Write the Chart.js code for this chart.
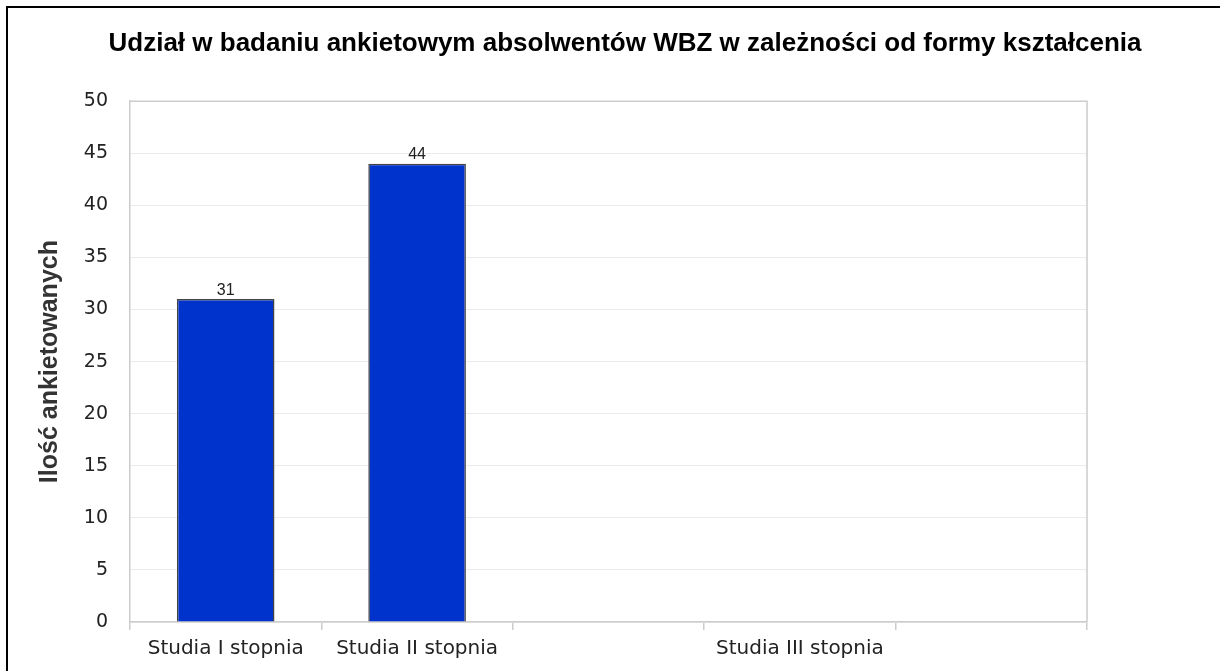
<!DOCTYPE html>
<html>
<head>
<meta charset="utf-8">
<script src="https://cdn.jsdelivr.net/npm/chart.js@4/dist/chart.umd.min.js"></script>
<style>
  html, body { margin: 0; padding: 0; background: #fff; overflow: hidden; }
  #frame { position: absolute; left: 6px; top: 6px; width: 1300px; height: 700px; border: 2px solid #000; }
  #wrap { position: absolute; left: 0; top: 0; width: 1220px; height: 671px; }
</style>
</head>
<body>
<div id="frame"></div>
<div id="wrap"><canvas id="chart" width="1220" height="671"></canvas></div>
<script>
// dane z wykresu
var categories = ['Studia I stopnia', 'Studia II stopnia', '', 'Studia III stopnia', ''];
var respondents = [31, 44, null, null, null];
var yMin = 0, yMax = 50, yStep = 5;

// obramowanie obszaru wykresu (góra i prawa strona)
var plotBorder = {
    id: 'plotBorder',
    afterDraw: function(chart) {
        var a = chart.chartArea, c = chart.ctx;
        c.save();
        c.strokeStyle = '#cccccc';
        c.lineWidth = 1.5;
        c.beginPath();
        c.moveTo(a.left, a.top);
        c.lineTo(a.right, a.top);
        c.lineTo(a.right, a.bottom);
        c.stroke();
        c.restore();
    }
};

// wartości nad słupkami
var barValues = {
    id: 'barValues',
    afterDatasetsDraw: function(chart) {
        var c = chart.ctx;
        var meta = chart.getDatasetMeta(0);
        c.save();
        c.font = '16px "Liberation Sans", Arial, sans-serif';
        c.fillStyle = '#222';
        c.textAlign = 'center';
        c.textBaseline = 'bottom';
        meta.data.forEach(function(bar, i) {
            var v = chart.data.datasets[0].data[i];
            if (v == null) return;
            c.fillText(String(v), bar.x, bar.y - 1);
        });
        c.restore();
    }
};

var ctx = document.getElementById('chart').getContext('2d');
var chart = new Chart(ctx, {
    type: 'bar',
    data: {
        labels: categories,
        datasets: [{
            data: respondents,
            backgroundColor: '#0033cc',
            borderColor: '#444444',
            borderWidth: 1.5,
            barPercentage: 0.51,
            categoryPercentage: 1
        }]
    },
    options: {
        responsive: false,
        animation: false,
        layout: { padding: { left: 30, right: 0, top: 0, bottom: 0 } },
        plugins: {
            legend: { display: false },
            tooltip: { enabled: false },
            title: {
                display: true,
                text: 'Udział w badaniu ankietowym absolwentów WBZ w zależności od formy kształcenia',
                color: '#000',
                font: { family: '"Liberation Sans", Arial, sans-serif', size: 26, weight: 'bold' },
                padding: { top: 28, bottom: 42 }
            }
        },
        scales: {
            x: {
                offset: true,
                grid: { display: true, drawOnChartArea: false, offset: true, color: '#cccccc', tickLength: 8, lineWidth: 1.5 },
                border: { color: '#cccccc', width: 1.5 },
                ticks: {
                    color: '#222',
                    padding: 7,
                    maxRotation: 0,
                    autoSkip: false,
                    font: { family: '"DejaVu Sans", sans-serif', size: 20 }
                },
                afterFit: function(s) { s.height = 49; }
            },
            y: {
                min: yMin,
                max: yMax,
                grid: { color: '#ebebeb', drawTicks: false, lineWidth: 1 },
                border: { color: '#cccccc', width: 1.5 },
                ticks: {
                    stepSize: yStep,
                    color: '#222',
                    padding: 22,
                    font: { family: '"DejaVu Sans", sans-serif', size: 19 }
                },
                title: {
                    display: true,
                    text: 'Ilość ankietowanych',
                    color: '#333',
                    font: { family: '"Liberation Sans", Arial, sans-serif', size: 25, weight: 'bold' },
                    padding: { top: 5, bottom: 0 }
                },
                afterFit: function(s) { s.width = 100; }
            },
            yRight: {
                position: 'right',
                display: true,
                grid: { display: false },
                border: { display: false },
                ticks: { display: false },
                afterFit: function(s) { s.width = 133; }
            }
        }
    },
    plugins: [plotBorder, barValues]
});
</script>
</body>
</html>
